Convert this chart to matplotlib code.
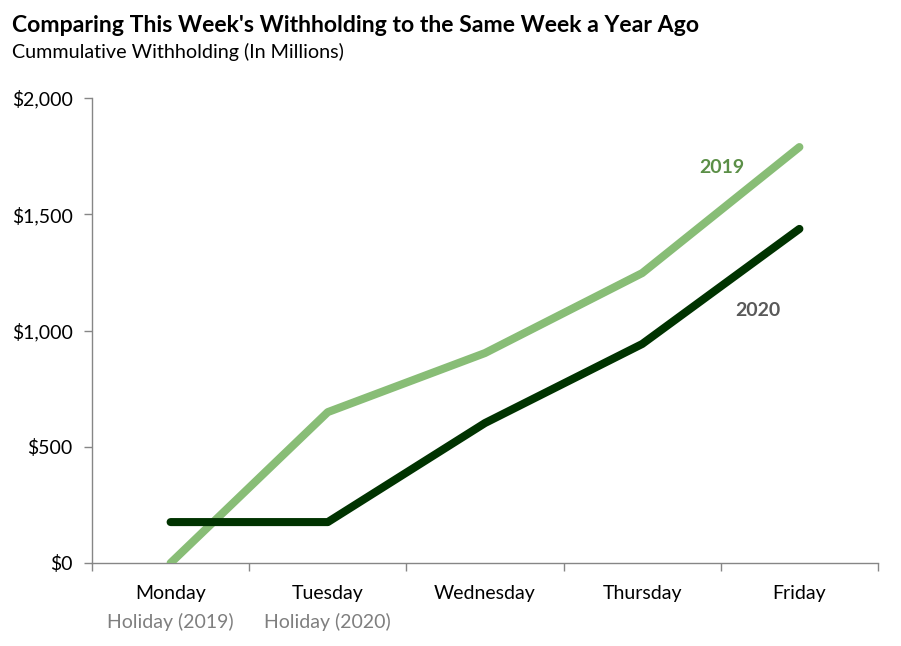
import matplotlib
matplotlib.use("Agg")
import matplotlib.pyplot as plt
from matplotlib.ticker import FuncFormatter

days = ["Monday", "Tuesday", "Wednesday", "Thursday", "Friday"]
holiday_labels = ["Holiday (2019)", "Holiday (2020)", "", "", ""]
values_2019 = [0, 649, 903, 1247, 1789]
values_2020 = [176, 176, 602, 942, 1437]

plt.rcParams['font.family'] = ['Lato', 'DejaVu Sans']

fig = plt.figure(figsize=(9.01, 6.46), dpi=100)
ax = fig.add_axes([92/901, 1-563/646, (878-92)/901, (563-98)/646])

x = list(range(len(days)))
ax.plot(x, values_2019, color="#88BD76", lw=5.8, solid_capstyle="round", solid_joinstyle="round", zorder=3)
ax.plot(x, values_2020, color="#003300", lw=5.8, solid_capstyle="round", solid_joinstyle="round", zorder=4)

ax.set_xlim(-0.5, 4.5)
ax.set_ylim(0, 2000)
ax.set_yticks([0, 500, 1000, 1500, 2000])
ax.yaxis.set_major_formatter(FuncFormatter(lambda v, p: f"${v:,.0f}"))
ax.set_xticks([i - 0.5 for i in range(len(days) + 1)])
ax.set_xticklabels([])

for s in ["top", "right"]:
    ax.spines[s].set_visible(False)
for s in ["left", "bottom"]:
    ax.spines[s].set_color("#868686")
    ax.spines[s].set_linewidth(1)
ax.tick_params(axis="both", colors="#868686", length=6, width=1, direction="out")
ax.tick_params(axis="y", labelcolor="#000000", labelsize=14, pad=8)

for i, d in enumerate(days):
    ax.annotate(d, xy=(i, 0), xycoords=("data", "axes fraction"), xytext=(0, -30*0.72),
                textcoords="offset points", ha="center", va="center", fontsize=14, color="#000000")
    if holiday_labels[i]:
        ax.annotate(holiday_labels[i], xy=(i, 0), xycoords=("data", "axes fraction"), xytext=(0, -59*0.72),
                    textcoords="offset points", ha="center", va="center", fontsize=14, color="#7F7F7F")

ax.text(3.506, 1700, "2019", color="#5B8F47", fontsize=14, fontweight="bold", ha="center", va="center")
ax.text(3.736, 1088, "2020", color="#595959", fontsize=14, fontweight="bold", ha="center", va="center")

fig.text(12/901, 1-25/646, "Comparing This Week's Withholding to the Same Week a Year Ago",
         fontsize=16.6, fontweight="bold", ha="left", va="center", color="#000000")
fig.text(12/901, 1-52/646, "Cummulative Withholding (In Millions)",
         fontsize=14.2, ha="left", va="center", color="#000000")

fig.savefig("out.png", dpi=100)
